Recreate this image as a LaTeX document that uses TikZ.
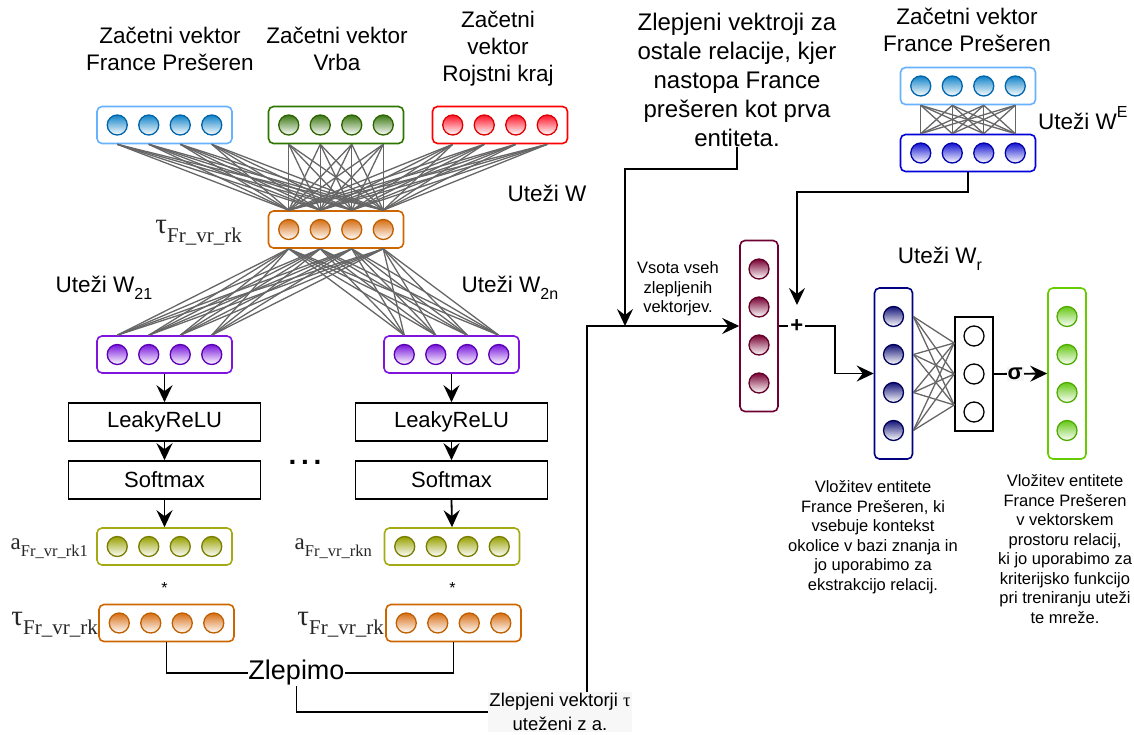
\documentclass[tikz,border=0pt]{standalone}
\usepackage{fontspec}
\setmainfont{Liberation Sans}
\newfontfamily\seriffont{Liberation Serif}
\usetikzlibrary{arrows.meta}
\definecolor{wgray}{RGB}{102,102,102}
\definecolor{bluBox}{RGB}{102,178,255}\definecolor{bluDot}{RGB}{16,130,200}\definecolor{bluEdge}{RGB}{0,100,170}
\definecolor{grnBox}{RGB}{45,118,0}\definecolor{grnDot}{RGB}{60,120,20}\definecolor{grnEdge}{RGB}{45,100,0}
\definecolor{redBox}{RGB}{255,0,0}\definecolor{redDot}{RGB}{255,20,40}\definecolor{redEdge}{RGB}{220,0,0}
\definecolor{orgBox}{RGB}{204,102,0}\definecolor{orgDot}{RGB}{215,110,20}\definecolor{orgEdge}{RGB}{190,95,0}
\definecolor{purBox}{RGB}{127,20,220}\definecolor{purDot}{RGB}{120,20,220}\definecolor{purEdge}{RGB}{90,0,180}
\definecolor{olvBox}{RGB}{165,170,20}\definecolor{olvDot}{RGB}{150,160,0}\definecolor{olvEdge}{RGB}{120,125,0}
\definecolor{mrnBox}{RGB}{110,0,50}\definecolor{mrnDot}{RGB}{120,0,50}\definecolor{mrnEdge}{RGB}{100,0,40}
\definecolor{nvyBox}{RGB}{0,0,128}\definecolor{nvyDot}{RGB}{20,20,120}\definecolor{nvyEdge}{RGB}{0,0,90}
\definecolor{dblBox}{RGB}{0,0,220}\definecolor{dblDot}{RGB}{20,20,210}\definecolor{dblEdge}{RGB}{0,0,170}
\definecolor{limBox}{RGB}{102,204,0}\definecolor{limDot}{RGB}{100,200,20}\definecolor{limEdge}{RGB}{80,170,0}
\newcommand{\lowtxt}[2]{\raisebox{-0.3em}{\fontsize{#1}{#1}\selectfont #2}}
\newcommand{\hightxt}[2]{\raisebox{0.5em}{\fontsize{#1}{#1}\selectfont #2}}
\newcommand{\symlbl}[4]{{\seriffont\color{black!85}\fontsize{#1}{#1}\selectfont #3\raisebox{-0.3em}{\fontsize{#2}{#2}\selectfont #4}}}
\begin{document}
\begin{tikzpicture}[x=1pt,y=1pt]
    \tikzstyle{every node}+=[inner sep=0pt]
    \tikzstyle{hbox}=[draw, rounded corners=5pt, line width=1.6pt, fill=white, minimum width=135pt, minimum height=37pt]
    \tikzstyle{vbox}=[draw, rounded corners=5pt, line width=1.6pt, fill=white, minimum width=38pt, minimum height=171pt]
    \tikzstyle{unit}=[circle, minimum size=20pt, line width=1.3pt]
    \tikzstyle{opbox}=[draw, line width=1.6pt, minimum width=192pt, minimum height=38pt, font=\fontsize{22}{26}\selectfont]
    \tikzstyle{txt}=[align=center, font=\fontsize{22.5}{27}\selectfont]
    \tikzstyle{small}=[align=center, font=\fontsize{16.5}{19.5}\selectfont]
    \tikzstyle{wire}=[draw=wgray, line width=1.3pt]
    \tikzstyle{link}=[line width=1.8pt]
    \tikzstyle{arr}=[link, -{Stealth[length=17pt,width=16pt,inset=6pt]}]
    \useasboundingbox (0,0) rectangle (1134,-735);
    \foreach \n/\x/\y/\col in {fpv/164.5/-125/blu, vrv/336/-125/grn, rkv/500/-125/red, tau/336/-229.5/org,
        w1v/164.5/-354.5/pur, wnv/451.5/-354.5/pur, a1v/164.5/-546.5/olv, anv/452/-546.5/olv,
        t1v/166.5/-623/org, tnv/453.5/-623/org, fpe/968/-86/blu, ebv/968/-153/dbl} {
        \node[hbox, draw=\col Box] (\n) at (\x,\y) {};
        \foreach \i/\d in {1/-47.25,2/-15.75,3/15.75,4/47.25}
            \node[unit, draw=\col Edge, top color=\col Dot, bottom color=white] (\n\i) at ([xshift=\d]\n) {};
    }
    \foreach \n/\x/\y/\col in {mar/759/-326/mrn, nav/893.5/-373.5/nvy, res/1067/-373.5/lim} {
        \node[vbox, draw=\col Box] (\n) at (\x,\y) {};
        \foreach \i/\d in {1/57,2/19,3/-19,4/-57}
            \node[unit, draw=\col Edge, top color=\col Dot, bottom color=white] (\n\i) at ([yshift=\d]\n) {};
    }
    \node[draw, line width=1.6pt, minimum width=38pt, minimum height=114pt] (blk) at (974,-374) {};
    \foreach \i/\d in {1/38,2/0,3/-38}
        \node[unit, draw, fill=white] (blk\i) at ([yshift=\d]blk) {};
    \node[opbox] (lr1) at (164.5,-422) {LeakyReLU};
    \node[opbox] (lrn) at (451.5,-422) {LeakyReLU};
    \node[opbox] (sm1) at (164.5,-480) {Softmax};
    \node[opbox] (smn) at (451.5,-480) {Softmax};
    \node[txt] (fpl) at (170,-48.5) {Začetni vektor\\France Prešeren};
    \node[txt] (vrl) at (337,-48.5) {Začetni vektor\\Vrba};
    \node[txt] (rkl) at (498,-49) {Začetni\\vektor\\Rojstni kraj};
    \node[txt] (wl) at (547,-193) {Uteži W};
    \node[txt] (w21l) at (104,-288) {Uteži W\lowtxt{16}{21}};
    \node[txt] (w2nl) at (510,-288) {Uteži W\lowtxt{16}{2n}};
    \node[anchor=east] (taul) at (242,-233) {\symlbl{29}{21}{τ}{Fr\_vr\_rk}};
    \node[anchor=east] (a1l) at (88,-549) {\symlbl{23}{16.5}{a}{Fr\_vr\_rk1}};
    \node[anchor=east] (anl) at (372,-549) {\symlbl{23}{16.5}{a}{Fr\_vr\_rkn}};
    \node[anchor=east] (t1l) at (98,-625) {\symlbl{29}{21}{τ}{Fr\_vr\_rk}};
    \node[anchor=east] (tnl) at (384,-625) {\symlbl{29}{21}{τ}{Fr\_vr\_rk}};
    \node[font=\fontsize{16}{16}\selectfont] (st1) at (164.5,-588) {*};
    \node[font=\fontsize{16}{16}\selectfont] (stn) at (452.5,-588) {*};
    \node[font=\fontsize{28}{28}\selectfont\bfseries] (dots) at (305,-462) {.\,.\,.};
    \node[font=\fontsize{27}{30}\selectfont] (zlep) at (296.5,-673) {Zlepimo};
    \node[align=center, fill=black!3, inner sep=1pt, font=\fontsize{18.5}{24}\selectfont] (zlt) at (560,-712) {Zlepjeni vektorji {\seriffont τ}\\uteženi z a.};
    \node[align=center, font=\fontsize{24}{29}\selectfont] (zvt) at (737,-80) {Zlepjeni vektroji za\\ostale relacije, kjer\\nastopa France\\prešeren kot prva\\entiteta.};
    \node[txt] (fpel) at (967,-30) {Začetni vektor\\France Prešeren};
    \node[txt, anchor=west] (wel) at (1038,-118) {Uteži W\hightxt{16}{E}};
    \node[txt] (wrl) at (940,-259) {Uteži W\lowtxt{16}{r}};
    \node[small] (vsl) at (678,-289) {Vsota vseh\\zlepljenih\\vektorjev.};
    \node[small] (emb1) at (873,-537) {Vložitev entitete\\France Prešeren, ki\\vsebuje kontekst\\okolice v bazi znanja in\\jo uporabimo za\\ekstrakcijo relacij.};
    \node[small] (emb2) at (1065,-549) {Vložitev entitete\\France Prešeren\\v vektorskem\\prostoru relacij,\\ki jo uporabimo za\\kriterijsko funkcijo\\pri treniranju uteži\\te mreže.};
    \foreach \s in {fpv,vrv,rkv} \foreach \i in {1,...,4} \foreach \j in {1,...,4}
        \draw[wire] (\s\i |- \s.south) -- (tau\j |- tau.north);
    \foreach \s in {w1v,wnv} \foreach \i in {1,...,4} \foreach \j in {1,...,4}
        \draw[wire] (tau\i |- tau.south) -- (\s\j |- \s.north);
    \foreach \i in {1,...,4} \foreach \j in {1,...,4}
        \draw[wire] (fpe\i |- fpe.south) -- (ebv\j |- ebv.north);
    \foreach \i in {1,...,4} \foreach \d in {31,0,-31}
        \draw[wire] (nav\i -| nav.east) -- ([yshift=\d]blk.west);
    \draw[arr] (w1v.south) -- (lr1.north);
    \draw[arr] (lr1.south) -- (sm1.north);
    \draw[arr] (sm1.south) -- (a1v.north);
    \draw[arr] (wnv.south) -- (lrn.north);
    \draw[arr] (lrn.south) -- (smn.north);
    \draw[arr] (smn.south) -- (anv.north);
    \draw[link] (t1v.south) |- (zlep.west);
    \draw[link] (tnv.south) |- (zlep.east);
    \draw[link] (zlep.south) |- (zlt.west);
    \draw[arr] (zlt.north) ++(27,0) |- (mar.west);
    \coordinate (join) at (625,-326);
    \draw[arr] (zvt.south) -- ++(0,-22) -| (join);
    \coordinate (plusin) at (797,-305);
    \draw[arr] (ebv.south) -- ++(0,-20) -| (plusin);
    \draw[arr] (mar.east) -- node[fill=white, inner sep=2pt, font=\fontsize{22}{22}\selectfont\bfseries] {+} ++(36,0) -- ++(20,0) |- (nav.west);
    \draw[arr] (blk.east) -- node[pos=0.4, fill=black!4, inner sep=1pt, font=\fontsize{22}{22}\selectfont\bfseries] {σ} (res.west);
\end{tikzpicture}
\end{document}
